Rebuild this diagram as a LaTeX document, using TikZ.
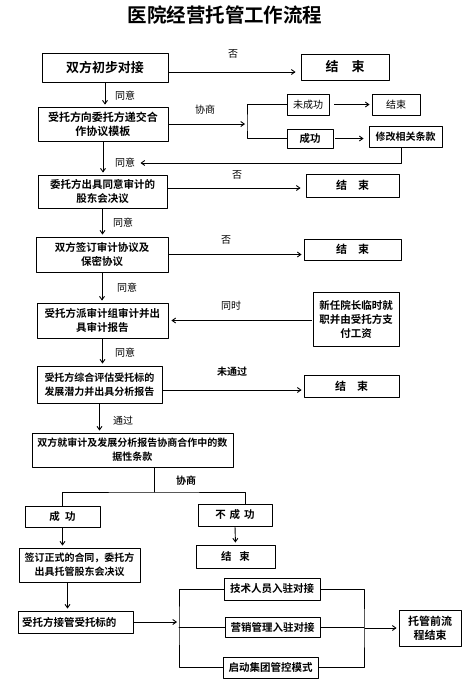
\documentclass[tikz,border=0pt]{standalone}
\usepackage{fontspec}
\setmainfont{Noto Sans CJK SC}[BoldFont={Noto Sans CJK SC Bold}]
\usetikzlibrary{arrows.meta}

\begin{document}
\begin{tikzpicture}[line cap=round,line join=round,>={Straight Barb[length=3.5pt,width=5pt]},x=1pt,y=-1pt,
  box/.style={draw,line width=0.9pt,align=center,inner sep=1pt,font=\fontsize{10.5}{14}\selectfont\bfseries},
  lbl/.style={font=\fontsize{10}{12}\selectfont},
  link/.style={line width=0.9pt},
  arr/.style={->,line width=0.9pt,shorten >=2pt,shorten <=1pt}]
\useasboundingbox (0,0) rectangle (464,686);
\node[font=\fontsize{19.5}{22}\selectfont\bfseries] (title) at (225,15) {医院经营托管工作流程};
\node[box,font=\fontsize{13}{16}\selectfont\bfseries,minimum width=126pt,minimum height=29pt] (b1) at (105,67.5) {双方初步对接};
\node[box,font=\fontsize{13}{16}\selectfont\bfseries,minimum width=88pt,minimum height=26pt] (e1) at (345,67) {结\quad 束};
\node[box,font=\fontsize{11}{14}\selectfont\bfseries,minimum width=130pt,minimum height=34pt] (b2) at (103,124) {受托方向委托方递交合\\作协议模板};
\node[box,font=\fontsize{10}{12}\selectfont,minimum width=42pt,minimum height=21pt] (nf) at (308,104.5) {未成功};
\node[box,font=\fontsize{10}{12}\selectfont,minimum width=48pt,minimum height=21pt] (ne) at (396,104.5) {结束};
\node[box,minimum width=46pt,minimum height=19pt] (ok) at (310,138.5) {成功};
\node[box,font=\fontsize{10}{12}\selectfont\bfseries,minimum width=73pt,minimum height=21pt] (mod) at (405.5,136.5) {修改相关条款};
\node[box,minimum width=129pt,minimum height=33pt] (b3) at (102.5,191.5) {委托方出具同意审计的\\股东会决议};
\node[box,font=\fontsize{11}{14}\selectfont\bfseries,minimum width=93pt,minimum height=23pt] (e2) at (352.5,185.5) {结\quad 束};
\node[box,minimum width=132pt,minimum height=35pt] (b4) at (102,254.5) {双方签订审计协议及\\保密协议};
\node[box,font=\fontsize{11}{14}\selectfont\bfseries,minimum width=97pt,minimum height=21pt] (e3) at (352.5,249.5) {结\quad 束};
\node[box,minimum width=131pt,minimum height=35pt] (b5) at (102.5,320.5) {受托方派审计组审计并出\\具审计报告};
\node[box,minimum width=86pt,minimum height=54pt] (nw) at (356,319) {新任院长临时就\\职并由受托方支\\付工资};
\node[box,font=\fontsize{10}{14}\selectfont\bfseries,minimum width=125pt,minimum height=37pt] (b6) at (99.5,384.5) {受托方综合评估受托标的\\发展潜力并出具分析报告};
\node[box,font=\fontsize{11}{14}\selectfont\bfseries,minimum width=95pt,minimum height=22pt] (e4) at (351.5,386) {结\quad 束};
\node[box,font=\fontsize{10}{14}\selectfont\bfseries,minimum width=201pt,minimum height=34pt] (b7) at (132.5,450) {双方就审计及发展分析报告协商合作中的数\\据性条款};
\node[box,minimum width=75pt,minimum height=21pt] (s1) at (62.5,516.5) {成\enspace 功};
\node[box,minimum width=74pt,minimum height=22pt] (f1) at (235,515) {不\hspace{4pt}成\hspace{4pt}功};
\node[box,minimum width=79pt,minimum height=23pt] (e5) at (235.5,556.5) {结\hspace{8pt}束};
\node[box,font=\fontsize{10}{14}\selectfont\bfseries,minimum width=121pt,minimum height=34pt] (b8) at (79.5,565) {签订正式的合同，委托方\\出具托管股东会决议};
\node[box,minimum width=115pt,minimum height=22pt,text width=107pt,align=left] (b9) at (75.5,622) {受托方接管受托标的};
\node[box,minimum width=96pt,minimum height=22pt] (t1) at (272,589) {技术人员入驻对接};
\node[box,minimum width=95pt,minimum height=20pt] (t2) at (272.5,627) {营销管理入驻对接};
\node[box,minimum width=95pt,minimum height=21pt] (t3) at (270.5,667.5) {启动集团管控模式};
\node[box,font=\fontsize{11}{14}\selectfont\bfseries,minimum width=62pt,minimum height=36pt] (fin) at (430,628) {托管前流\\程结束};
\node[lbl] (no1) at (233,54) {否};
\node[lbl] (ag1) at (125,96) {同意};
\node[lbl] (neg1) at (205,110) {协商};
\node[lbl] (ag2) at (125,163) {同意};
\node[lbl] (no2) at (237,175) {否};
\node[lbl] (ag3) at (123,223) {同意};
\node[lbl] (no3) at (226,240) {否};
\node[lbl] (ag4) at (127,288) {同意};
\node[lbl] (sim) at (231,306) {同时};
\node[lbl] (ag5) at (125,353) {同意};
\node[lbl,font=\fontsize{10}{12}\selectfont\bfseries] (fail) at (232,372) {未通过};
\node[lbl] (pass) at (123,421) {通过};
\node[lbl,font=\fontsize{10}{12}\selectfont\bfseries] (neg2) at (186,481) {协商};
\coordinate (jn) at (247,124);
\coordinate (sp) at (154,492);
\coordinate (jl) at (179,623);
\coordinate (jr) at (364,628);
\draw[arr,shorten >=5pt] ([yshift=-4.5pt]b1.east) -- ([yshift=-4.5pt]b1.east -| e1.west);
\draw[arr] (b1.south) -- (b1.south |- b2.north);
\draw[arr] (b2.east) -- (jn);
\draw[link] (nf.west) -| (jn) |- (ok.west);
\draw[arr,shorten <=5pt] (nf) -- (ne);
\draw[arr,shorten <=2pt,shorten >=5pt] (ok) -- (ok -| mod.west);
\draw[arr] ([xshift=-4.5pt]mod.south) |- (ag2.east);
\draw[arr] (b2.south) -- (b2.south |- b3.north);
\draw[arr,shorten >=5pt] ([yshift=3.5pt]b3.east) -- ([yshift=3.5pt]b3.east -| e2.west);
\draw[arr] (b3.south) -- (b3.south |- b4.north);
\draw[arr] (b4.east) -- (b4.east -| e3.west);
\draw[arr] (b4.south) -- (b4.south |- b5.north);
\draw[arr,shorten >=3pt] (nw.west |- b5.east) -- (b5.east);
\draw[arr] (b5.south) -- (b5.south |- b6.north);
\draw[arr] ([yshift=-5.5pt]b6.east) -- ([yshift=-5.5pt]b6.east -| e4.west);
\draw[arr] (b6.south) -- (b6.south |- b7.north);
\draw[link] (b7.south -| sp) -- (sp);
\draw[link] (s1.north) |- (sp) -| ([xshift=10pt]f1.north);
\draw[arr] (f1.south) -- (e5.north);
\draw[arr] (s1.south) -- (s1.south |- b8.north);
\draw[arr] ([xshift=-12pt]b8.south) -- ([xshift=-12pt]b8.south |- b9.north);
\draw[arr] (b9.east) -- (b9.east -| jl);
\draw[link] (t1.west) -| (jl) |- (t3.west);
\draw[link] (jl |- t2.west) -- (t2.west);
\draw[link] (t1.east) -| (jr) |- (t3.east);
\draw[link] (t2.east) -- (t2.east -| jr);
\draw[arr] (jr) -- (fin.west);
\end{tikzpicture}
\end{document}
